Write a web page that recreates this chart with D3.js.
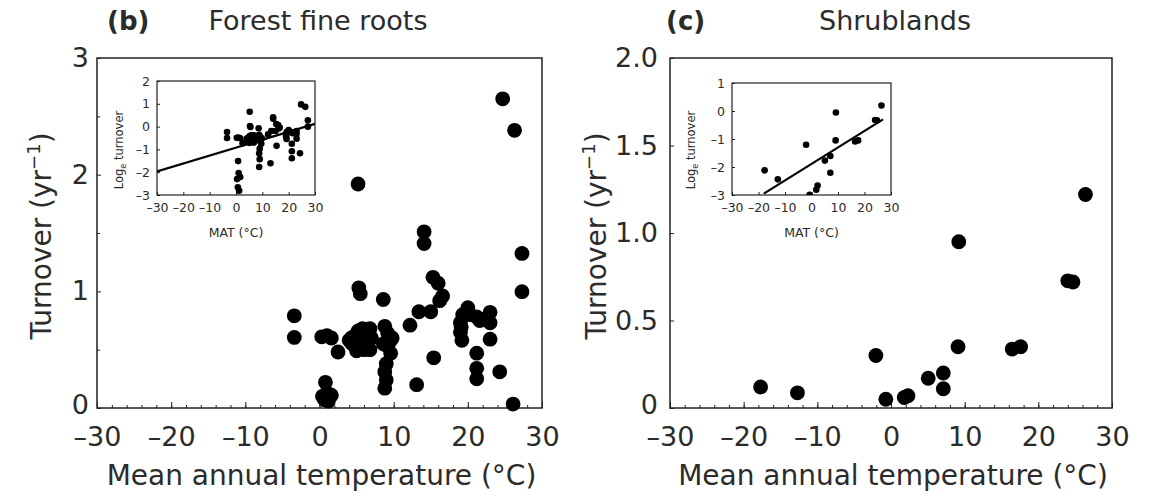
<!DOCTYPE html>
<html>
<head>
  <meta charset="utf-8">
  <script src="https://d3js.org/d3.v7.min.js"></script>
  <style>
  body { margin: 0; background: #fff; }
  svg { display: block; font-family: "DejaVu Sans", sans-serif; }
  </style>
</head>
<body>
<svg id="chart" width="1153" height="492"></svg>
<script>
// panel (b): forest fine roots, mean annual temperature (C) and turnover (1/yr)
var forestMat = [-3.4, -3.4, 0.3, 1.0, 1.6, 2.5, 0.8, 0.4, 1.0, 1.6, 0.7, 1.2,
  4.0, 4.4, 4.8, 5.2, 5.4, 5.6, 5.8, 6.2, 6.5, 6.8, 6.8, 5.0, 6.0, 7.0, 4.3,
  5.3, 5.5, 5.2, 8.6,
  8.8, 9.2, 9.6, 9.2, 9.6, 9.0, 8.8, 9.0, 8.8, 9.8, 8.6,
  12.2, 13.1, 14.1, 14.1, 13.4, 15.0, 15.3, 16.0, 16.6, 16.2, 15.4,
  19.0, 19.0, 19.2, 19.3, 20.0, 20.3, 21.2, 21.6, 19.1,
  21.2, 21.2, 21.2, 23.0, 23.0, 23.0, 22.5,
  24.3, 26.1, 27.3, 27.3, 24.7, 26.3];
var forestTurnover = [0.79, 0.605, 0.61, 0.62, 0.60, 0.48, 0.22, 0.10, 0.13, 0.11, 0.07, 0.06,
  0.58, 0.55, 0.62, 0.66, 0.52, 0.60, 0.68, 0.63, 0.55, 0.68, 0.50, 0.49, 0.50, 0.60, 0.60,
  1.03, 0.98, 1.92, 0.93,
  0.70, 0.64, 0.58, 0.53, 0.47, 0.38, 0.31, 0.24, 0.17, 0.60, 0.55,
  0.71, 0.20, 1.51, 1.41, 0.825, 0.825, 1.12, 1.07, 0.96, 0.92, 0.43,
  0.73, 0.65, 0.58, 0.80, 0.86, 0.80, 0.78, 0.75, 0.69,
  0.47, 0.34, 0.25, 0.82, 0.73, 0.59, 0.77,
  0.31, 0.034, 1.325, 0.997, 2.65, 2.38];

// panel (c): shrublands
var shrubMat = [-17.7, -12.7, -2.05, -0.7, 1.8, 2.3, 5.05, 7.1, 7.1, 9.1, 9.2, 16.45, 17.6, 24.0, 24.7, 26.4];
var shrubTurnover = [0.12, 0.087, 0.30, 0.05, 0.06, 0.07, 0.17, 0.20, 0.11, 0.35, 0.95, 0.337, 0.35, 0.727, 0.72, 1.22];

// fitted lines drawn in the insets (log_e turnover)
var forestFitMat = [-30, 30];
var forestFitLog = [-1.97, 0.12];
var shrubFitMat = [-18, 27];
var shrubFitLog = [-2.95, -0.3];

// tick labels
var xTicks = [-30, -20, -10, 0, 10, 20, 30];
var forestYTicks = [0, 1, 2, 3];
var shrubYTicks = [0, 0.5, 1.0, 1.5, 2.0];
var shrubYLabels = ["0", "0.5", "1.0", "1.5", "2.0"];
var forestInsetYTicks = [-3, -2, -1, 0, 1, 2];
var shrubInsetYTicks = [-3, -2, -1, 0, 1];

var svg = d3.select("#chart");
var ink = "#2b2b2b";

function minus(d) { return d < 0 ? "\u2013" + Math.abs(d) : String(d); }

function pairs(xs, ys) { return xs.map(function(v, i) { return {x: v, y: ys[i]}; }); }

function cleanAxis(sel, size) {
  sel.select(".domain").remove();
  sel.attr("font-family", null).attr("font-size", size);
  sel.selectAll("text").attr("fill", ink);
  sel.selectAll("line").attr("stroke", "#222");
}

function drawPanel(cfg) {
  var g = svg.append("g");
  var x = d3.scaleLinear().domain([-30, 30]).range([cfg.left, cfg.right]);
  var y = d3.scaleLinear().domain([0, cfg.yMax]).range([408, 58]);

  // minor x ticks every 2 degrees
  g.append("g").attr("transform", "translate(0,408)")
    .call(d3.axisBottom(x).tickValues(d3.range(-28, 30, 2)).tickSize(-3).tickFormat(""))
    .call(cleanAxis, 27);
  g.append("g").attr("transform", "translate(0,408)")
    .call(d3.axisBottom(x).tickValues(xTicks).tickSize(-6).tickPadding(19).tickFormat(minus))
    .call(cleanAxis, 27);

  g.append("g").attr("transform", "translate(" + cfg.left + ",0)")
    .call(d3.axisLeft(y).tickValues(cfg.yMinor).tickSize(-3).tickFormat(""))
    .call(cleanAxis, 27);
  var ya = g.append("g").attr("transform", "translate(" + cfg.left + ",0)")
    .call(d3.axisLeft(y).tickValues(cfg.yTicks).tickSize(-4).tickPadding(cfg.yPad)
      .tickFormat(function(d, i) { return cfg.yLabels[i]; }))
    .call(cleanAxis, 27);
  // the zero label sits a little higher, clear of the x labels
  ya.selectAll("text").filter(function(d) { return d === 0; }).attr("dy", "0.2em");

  g.append("rect")
    .attr("x", cfg.left).attr("y", 58)
    .attr("width", cfg.right - cfg.left).attr("height", 350)
    .attr("fill", "none").attr("stroke", "#222").attr("stroke-width", 1.5);

  g.selectAll(".dot").data(cfg.points).enter().append("circle")
    .attr("cx", function(d) { return x(d.x); })
    .attr("cy", function(d) { return y(d.y); })
    .attr("r", 7.4).attr("fill", "#000");

  // titles
  g.append("text").attr("x", cfg.tagX).attr("y", 30)
    .attr("font-size", 26).attr("font-weight", "bold").attr("fill", ink).text(cfg.tag);
  g.append("text").attr("x", cfg.titleX).attr("y", 30).attr("text-anchor", "middle")
    .attr("font-size", 27).attr("fill", ink).text(cfg.title);

  g.append("text").attr("x", (cfg.left + cfg.right) / 2 + 2).attr("y", 485)
    .attr("text-anchor", "middle").attr("font-size", 28).attr("fill", ink)
    .text("Mean annual temperature (\u00B0C)");

  var yt = g.append("text")
    .attr("transform", "translate(" + cfg.yTitleX + ",236) rotate(-90)")
    .attr("text-anchor", "middle").attr("font-size", 28).attr("fill", ink);
  yt.append("tspan").text("Turnover (yr");
  yt.append("tspan").attr("font-size", 18).attr("dy", -11).text("\u22121");
  yt.append("tspan").attr("dy", 11).text(")");

  drawInset(g, cfg.inset);
}

function drawInset(parent, c) {
  var g = parent.append("g");
  var x = d3.scaleLinear().domain([-30, 30]).range([c.left, c.right]);
  var y = d3.scaleLinear().domain([c.yTicks[0], c.yTicks[c.yTicks.length - 1]]).range([c.bottom, c.top]);

  var clipId = "clip" + c.left;
  g.append("clipPath").attr("id", clipId).append("rect")
    .attr("x", c.left).attr("y", c.top).attr("width", c.right - c.left).attr("height", c.bottom - c.top);

  g.append("g").attr("transform", "translate(0," + c.bottom + ")")
    .call(d3.axisBottom(x).tickValues(xTicks).tickSize(-3).tickPadding(8).tickFormat(minus))
    .call(cleanAxis, 12.5);
  g.append("g").attr("transform", "translate(" + c.left + ",0)")
    .call(d3.axisLeft(y).tickValues(c.yTicks).tickSize(-3).tickPadding(7).tickFormat(minus))
    .call(cleanAxis, 12.5);

  g.append("rect")
    .attr("x", c.left).attr("y", c.top)
    .attr("width", c.right - c.left).attr("height", c.bottom - c.top)
    .attr("fill", "none").attr("stroke", "#222").attr("stroke-width", 1.2);

  var body = g.append("g").attr("clip-path", "url(#" + clipId + ")");
  body.selectAll(".idot").data(c.points.filter(function(d) { return d.y > 0; })).enter().append("circle")
    .attr("cx", function(d) { return x(d.x); })
    .attr("cy", function(d) { return y(Math.log(d.y)); })
    .attr("r", 3.3).attr("fill", "#000");

  body.append("path")
    .datum(pairs(c.fitX, c.fitY))
    .attr("fill", "none").attr("stroke", "#000").attr("stroke-width", 2.2)
    .attr("d", d3.line().x(function(d) { return x(d.x); }).y(function(d) { return y(d.y); }));

  g.append("text").attr("x", (c.left + c.right) / 2).attr("y", 237)
    .attr("text-anchor", "middle").attr("font-size", 12.5).attr("fill", ink)
    .text("MAT (\u00B0C)");

  var lt = g.append("text")
    .attr("transform", "translate(" + c.labelX + ",150) rotate(-90)")
    .attr("text-anchor", "middle").attr("font-size", 11.5).attr("fill", ink);
  lt.append("tspan").text("Log");
  lt.append("tspan").attr("font-size", 8).attr("dy", 3).text("e");
  lt.append("tspan").attr("dy", -3).text(" turnover");
}

drawPanel({
  left: 97, right: 542, yMax: 3,
  yTicks: forestYTicks, yLabels: forestYTicks.map(String), yMinor: [0.5, 1.5, 2.5], yPad: 8,
  points: pairs(forestMat, forestTurnover),
  tag: "(b)", tagX: 107, title: "Forest fine roots", titleX: 318, yTitleX: 51,
  inset: {
    left: 157, right: 315, top: 81, bottom: 195, yTicks: forestInsetYTicks,
    points: pairs(forestMat, forestTurnover), fitX: forestFitMat, fitY: forestFitLog, labelX: 123
  }
});

drawPanel({
  left: 670, right: 1112, yMax: 2,
  yTicks: shrubYTicks, yLabels: shrubYLabels, yMinor: [], yPad: 12,
  points: pairs(shrubMat, shrubTurnover),
  tag: "(c)", tagX: 666, title: "Shrublands", titleX: 895, yTitleX: 606,
  inset: {
    left: 732, right: 891, top: 83, bottom: 195, yTicks: shrubInsetYTicks,
    points: pairs(shrubMat, shrubTurnover), fitX: shrubFitMat, fitY: shrubFitLog, labelX: 695
  }
});
</script>
</body>
</html>
